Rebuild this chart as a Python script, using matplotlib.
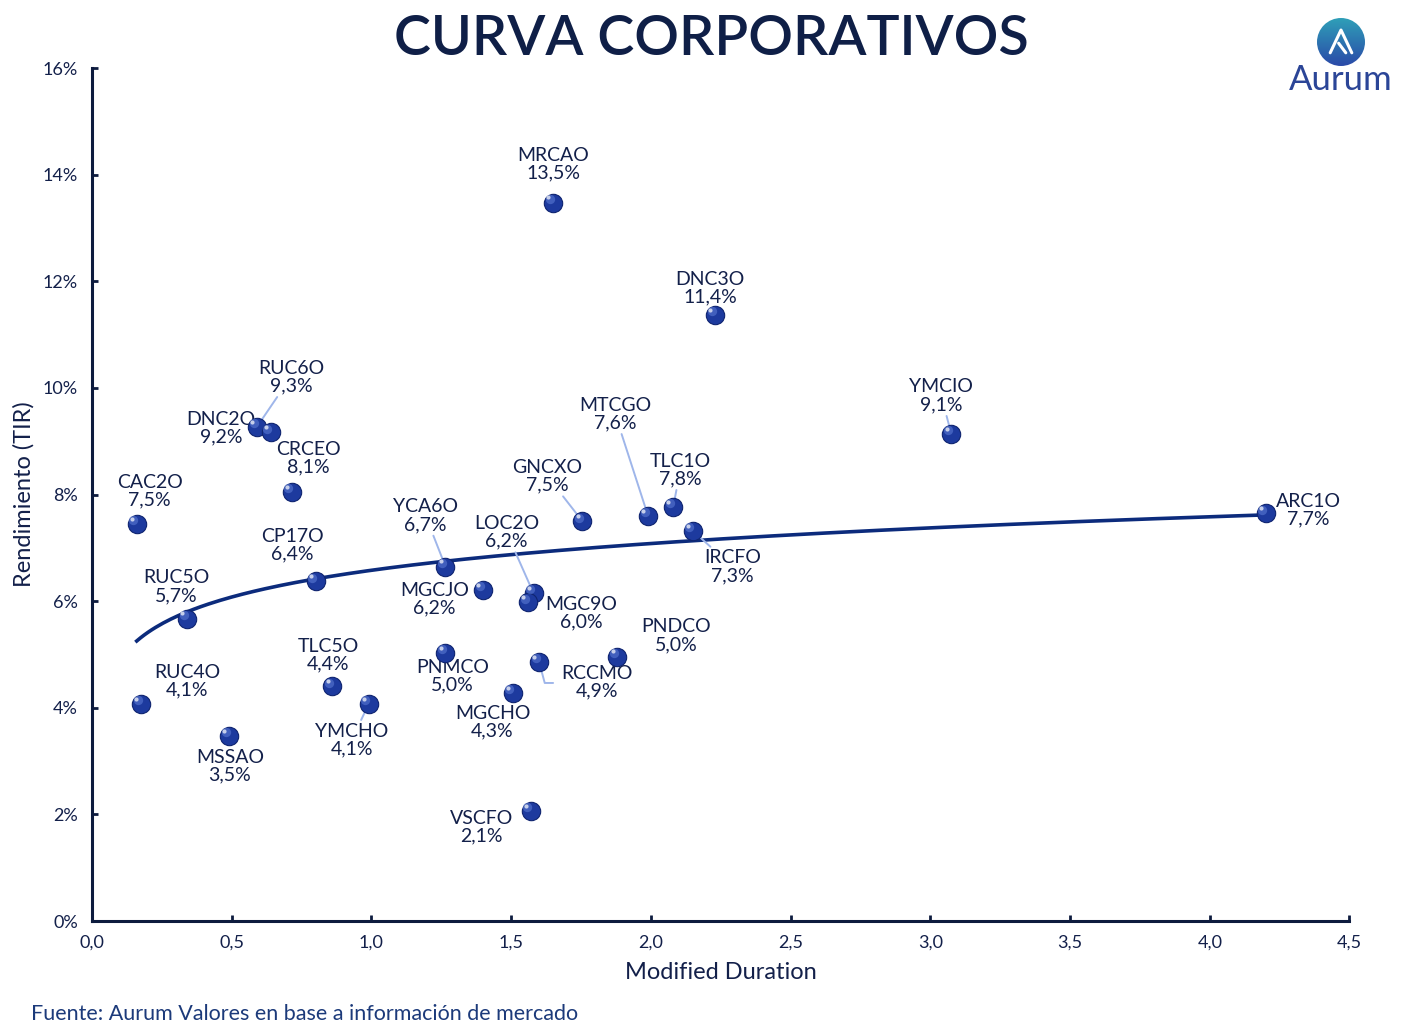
import numpy as np
import matplotlib
matplotlib.use("Agg")
import matplotlib.pyplot as plt
from matplotlib.patches import Circle
from matplotlib.ticker import FuncFormatter, MultipleLocator

# ==== DATA ====
tickers = ["CAC2O", "RUC4O", "RUC5O", "MSSAO", "RUC6O", "DNC2O", "CRCEO", "CP17O",
           "TLC5O", "YMCHO", "YCA6O", "PNMCO", "MGCJO", "MGCHO", "LOC2O", "MGC9O",
           "RCCMO", "VSCFO", "MRCAO", "GNCXO", "PNDCO", "MTCGO", "TLC1O", "IRCFO",
           "DNC3O", "YMCIO", "ARC1O"]
duration = [0.16, 0.175, 0.34, 0.49, 0.59, 0.64, 0.715, 0.80,
            0.86, 0.99, 1.265, 1.265, 1.40, 1.505, 1.58, 1.56,
            1.60, 1.57, 1.65, 1.755, 1.88, 1.99, 2.08, 2.15,
            2.23, 3.075, 4.20]
tir = [7.45, 4.07, 5.67, 3.47, 9.27, 9.17, 8.05, 6.37,
       4.40, 4.07, 6.65, 5.03, 6.21, 4.28, 6.15, 5.98,
       4.86, 2.06, 13.48, 7.50, 4.96, 7.60, 7.77, 7.32,
       11.37, 9.14, 7.65]

# label offsets in pixels (dx, dy up) and which ones get a leader line
offsets = {
    "CAC2O": (13, 33), "RUC4O": (46, 23), "RUC5O": (-11, 32), "MSSAO": (1, -30),
    "RUC6O": (34, 50), "DNC2O": (-50, 4), "CRCEO": (17, 34), "CP17O": (-23, 36),
    "TLC5O": (-4, 31), "YMCHO": (-17, -36), "YCA6O": (-20, 51), "PNMCO": (7, -23),
    "MGCJO": (-49, -9), "MGCHO": (-20, -29), "LOC2O": (-27, 61), "MGC9O": (53, -11),
    "RCCMO": (58, -20), "VSCFO": (-49, -16), "MRCAO": (0, 38), "GNCXO": (-35, 45),
    "PNDCO": (59, 21), "MTCGO": (-33, 102), "TLC1O": (7, 37), "IRCFO": (40, -36),
    "DNC3O": (-5, 27), "YMCIO": (-10, 38), "ARC1O": (43, 3),
}
leaders = ["RUC6O", "YCA6O", "LOC2O", "GNCXO", "MTCGO", "TLC1O", "IRCFO",
           "YMCIO", "YMCHO"]

navy = "#13204a"
dot_color = "#1d3a9e"
line_color = "#0c2b7c"
leader_color = "#9fb6ea"

plt.rcParams['font.family'] = ['Lato', 'DejaVu Sans']

fig = plt.figure(figsize=(14.22, 10.33), dpi=100)
ax = fig.add_axes([0.0647, 0.1084, 0.8843, 0.8256])

x = np.array(duration)
y = np.array(tir)

# ==== LOG TREND ====
b, a = np.polyfit(np.log(x), y, 1)
xs = np.linspace(x.min(), x.max(), 300)
ax.plot(xs, a + b * np.log(xs), color=line_color, lw=2.6, zorder=2)

# ==== POINTS (sphere look) ====
ax.scatter(x, y, s=175, color=dot_color, edgecolors="#0f2470", linewidths=0.8, zorder=4)
ax.scatter(x - 0.012, y + 0.07, s=45, color="#5f7fd8", alpha=0.55, linewidths=0, zorder=5)
ax.scatter(x - 0.017, y + 0.1, s=9, color="white", alpha=0.7, linewidths=0, zorder=6)

# ==== LABELS ====
for t, xv, yv in zip(tickers, duration, tir):
    dx, dy = offsets[t]
    label = f"{t}\n{yv:.1f}%".replace(".", ",")
    arrow = None
    if t in leaders:
        arrow = dict(arrowstyle="-", color=leader_color, lw=1.4, shrinkA=0, shrinkB=3)
    ax.annotate(label, (xv, yv), xytext=(dx * 0.72, dy * 0.72), textcoords="offset points",
                ha="center", va="center", fontsize=14, color=navy, linespacing=1.05,
                arrowprops=arrow, zorder=3)

# elbow leader for RCCMO
i = tickers.index("RCCMO")
ax.annotate("", (duration[i], tir[i]), xytext=(14 * 0.72, -21 * 0.72), textcoords="offset points",
            arrowprops=dict(arrowstyle="-", color=leader_color, lw=1.4, shrinkA=0, shrinkB=3,
                            connectionstyle="angle,angleA=0,angleB=105,rad=0"), zorder=3)

# ==== AXES ====
ax.set_xlim(0, 4.5)
ax.set_ylim(0, 16)
ax.xaxis.set_major_locator(MultipleLocator(0.5))
ax.yaxis.set_major_locator(MultipleLocator(2))
ax.xaxis.set_major_formatter(FuncFormatter(lambda v, p: f"{v:.1f}".replace(".", ",")))
ax.yaxis.set_major_formatter(FuncFormatter(lambda v, p: f"{v:.0f}%"))
for s in ["top", "right"]:
    ax.spines[s].set_visible(False)
for s in ["left", "bottom"]:
    ax.spines[s].set_color("#0d1b3e")
    ax.spines[s].set_linewidth(2.2)
ax.tick_params(direction="in", length=4, width=2, color="#0d1b3e",
               labelsize=13, labelcolor=navy, pad=10)
ax.set_xlabel("Modified Duration", fontsize=17, color=navy, labelpad=8)
ax.set_ylabel("Rendimiento (TIR)", fontsize=17, color=navy, labelpad=6)

# ==== TITLE / SOURCE ====
fig.text(0.5, 0.962, "CURVA CORPORATIVOS", ha="center", va="center", fontsize=40,
         fontweight="semibold", color="#0f1f47")
fig.text(0.022, 0.018, "Fuente: Aurum Valores en base a información de mercado",
         fontsize=15.5, color="#1c3a7a", ha="left", va="center")

# ==== LOGO ====
lax = fig.add_axes([1317 / 1422, 1 - 66 / 1033, 48 / 1422, 48 / 1033])
lax.set_xlim(-1, 1)
lax.set_ylim(-1, 1)
lax.axis("off")
grad = np.linspace(0, 1, 100)
img = lax.imshow(np.outer(grad, np.ones(100)), extent=(-1, 1, -1, 1),
                 cmap=matplotlib.colors.LinearSegmentedColormap.from_list("g", ["#2f9fb8", "#2a4aa8"]),
                 origin="upper")
circ = Circle((0, 0), 1, transform=lax.transData)
img.set_clip_path(circ)
lax.plot([-0.45, 0.0, 0.45], [-0.45, 0.5, -0.45], color="white", lw=2.2, solid_capstyle="round")
lax.plot([-0.1, 0.2], [-0.05, -0.45], color="white", lw=2.2, solid_capstyle="round")
fig.text(1341 / 1422, 1 - 80 / 1033, "Aurum", ha="center", va="center", fontsize=25,
         color="#2b4597")

fig.savefig("out.png", dpi=100)
